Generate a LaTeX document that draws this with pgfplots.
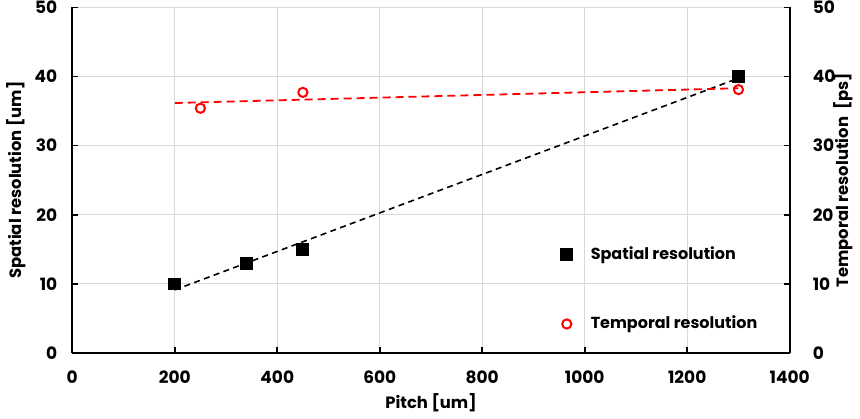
\documentclass[border=0pt]{standalone}
\usepackage{fontspec}
\setmainfont{Poppins}
\usepackage{pgfplots}
\pgfplotsset{compat=1.18}
\definecolor{gridgray}{RGB}{217,217,217}
\pgfplotsset{
  common/.style={
    scale only axis, width=359pt, height=173pt,
    xmin=0, xmax=1400, ymin=0, ymax=50,
    ytick={0,10,...,50},
    axis line style={line width=1pt, -},
    major tick length=3pt,
    tick style={black, line width=0.8pt},
    font=\bfseries\fontsize{8.5}{10}\selectfont,
    /pgf/number format/assume math mode=true,
    /pgf/number format/1000 sep={},
    label style={font=\bfseries\fontsize{8.2}{10}\selectfont},
  }
}
\begin{document}
\begin{tikzpicture}
\begin{axis}[
  common,
  xtick={0,200,...,1400},
  axis x line*=bottom, axis y line*=left,
  grid=major, major grid style={gridgray, line width=0.5pt},
  xticklabel style={yshift=-5.5pt},
  yticklabel style={xshift=-4pt, inner ysep=0.5pt},
  xlabel={Pitch [um]}, ylabel={Spatial resolution [um]},
  xlabel style={at={([yshift=-25pt]axis description cs:0.5,0)}, anchor=center},
  ylabel style={at={([xshift=-28pt]axis description cs:0,0.5)}, anchor=center, rotate=0},
  legend style={draw=none, fill=none, at={(0.672,0.333)}, anchor=north west,
    font=\bfseries\fontsize{8}{10}\selectfont, row sep=23pt, column sep=7pt,
    legend cell align=left},
  legend image code/.code={\draw[#1] plot coordinates {(0.12cm,0cm)};},
]
\addplot[only marks, mark=square*, mark size=3pt, black] coordinates {
  (200,10) (340,13) (450,15) (1300,40)};
\addlegendentry{Spatial resolution}
\addplot[only marks, mark=o, mark size=2.3pt, red, line width=1pt] coordinates {
  (250,35.4) (450,37.7) (1300,38.1)};
\addlegendentry{Temporal resolution}
\addplot[forget plot, black, line width=0.8pt, dash pattern=on 3pt off 2.2pt] coordinates {
  (200,9.13) (1300,39.75)};
\addplot[forget plot, red, line width=0.9pt, dash pattern=on 4pt off 2.5pt] coordinates {
  (200,36.16) (1300,38.3)};
\end{axis}
\begin{axis}[
  common,
  axis x line=none, axis y line*=right,
  yticklabel style={xshift=8pt, inner ysep=0.5pt},
  ylabel={Temporal resolution~~[ps]},
  ylabel style={at={([xshift=27pt]axis description cs:1,0.5)}, anchor=center},
]
\end{axis}
\end{tikzpicture}
\end{document}
